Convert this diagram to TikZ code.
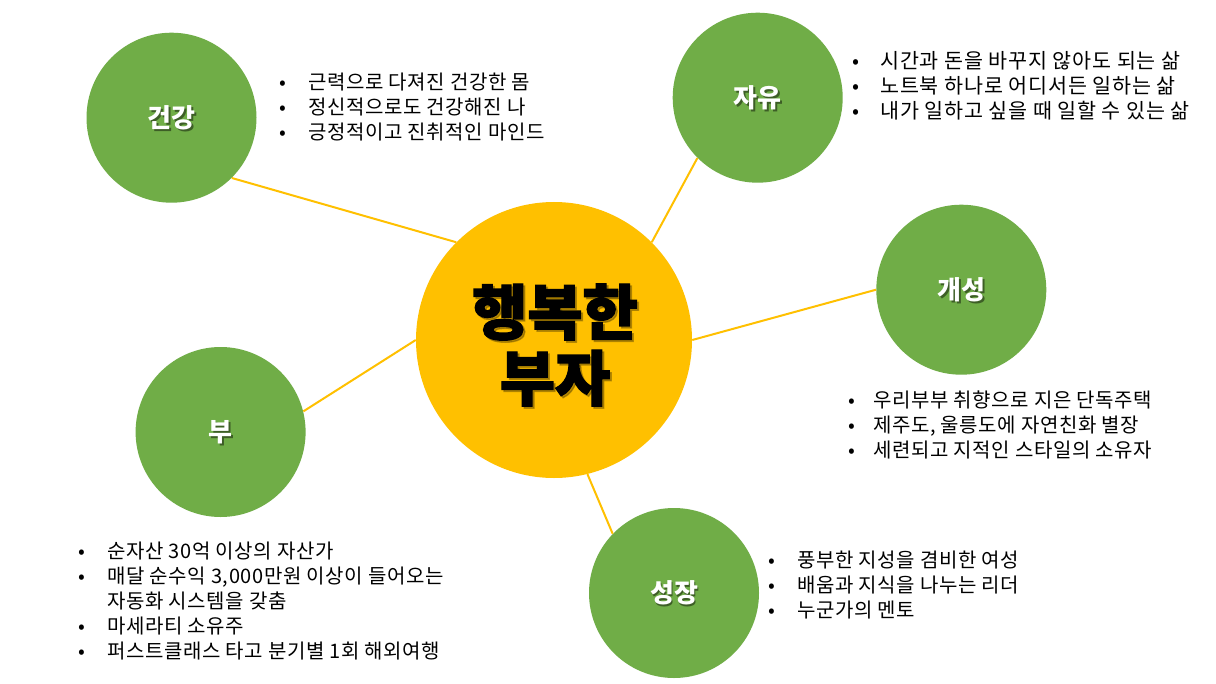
\documentclass[tikz,border=0pt]{standalone}
\usepackage{fontspec}
\newfontfamily\kr{Noto Sans CJK KR}
\newfontfamily\krl{Noto Sans CJK KR}[LetterSpace=3]
\newfontfamily\krj{Noto Sans CJK KR}[LetterSpace=4]
\newfontfamily\krh{Noto Sans CJK KR}[BoldFeatures={FakeBold=2.2}]
\definecolor{hubyellow}{HTML}{FFC000}
\definecolor{topicgreen}{HTML}{70AD47}
\tikzset{
  hub/.style={circle, fill=hubyellow, minimum size=207pt, inner sep=0pt},
  topic/.style={circle, fill=topicgreen, minimum size=127.5pt, inner sep=0pt},
  link/.style={draw=hubyellow, line width=1.5pt},
  lbl/.style={text=white, inner sep=0pt, font=\kr\bfseries\fontsize{19.5}{22}\selectfont},
  lblshadow/.style={text=black, opacity=0.45, inner sep=0pt, xshift=1.3pt, yshift=-1.3pt, font=\kr\bfseries\fontsize{19.5}{22}\selectfont},
  hubtext/.style={align=center, inner sep=0pt, font=\krh\bfseries\fontsize{45}{49.5}\selectfont},
  blist/.style={anchor=base west, inner sep=0pt, font=\krl\fontsize{15}{18.75}\selectfont},
  blistj/.style={anchor=base west, inner sep=0pt, font=\krj\fontsize{15.5}{18.75}\selectfont}
}
\begin{document}
\begin{tikzpicture}[x=0.75pt,y=-0.75pt]
\useasboundingbox[fill=white] (0,0) rectangle (1216,684);
% hub
\node[hub] (c) at (554,340) {};
% topics
\node[topic] (g) at (171.5,117.7) {};
\node[topic] (j) at (757.7,97.7) {};
\node[topic] (k) at (961.3,289.7) {};
\node[topic] (b) at (220.6,432) {};
\node[topic] (s) at (674,593) {};
% connectors
\draw[link] (g.-45) -- (c.135);
\draw[link] (j.225) -- (c.45);
\draw[link] (k.180) -- (c.0);
\draw[link] (b.14) -- (c.180);
\draw[link] (s.136) -- (c.-76);
% hub text
\node[hubtext, text=black!55!hubyellow, opacity=0.5, xshift=1.5pt, yshift=-1.5pt] at (555,345) {행복한\\부자};
\node[hubtext] (ct) at (555,345) {행복한\\부자};
% topic labels
\node[lblshadow] at (g) {건강}; \node[lbl] (gl) at (g) {건강};
\node[lblshadow] at (j) {자유}; \node[lbl] (jl) at (j) {자유};
\node[lblshadow] at (k) {개성}; \node[lbl] (kl) at (k) {개성};
\node[lblshadow] at (b) {부};   \node[lbl] (bl) at (b) {부};
\node[lblshadow] at (s) {성장}; \node[lbl] (sl) at (s) {성장};
% bullet lists
\node[blist] (gt) at (279,90) {\begin{tabular}[t]{@{}p{21.75pt}@{}l@{}}
•&근력으로 다져진 건강한 몸\\
•&정신적으로도 건강해진 나\\
•&긍정적이고 진취적인 마인드\end{tabular}};
\node[blistj] (jt) at (852,69) {\begin{tabular}[t]{@{}p{21pt}@{}l@{}}
•&시간과 돈을 바꾸지 않아도 되는 삶\\
•&노트북 하나로 어디서든 일하는 삶\\
•&내가 일하고 싶을 때 일할 수 있는 삶\end{tabular}};
\node[blist] (kt) at (848,407) {\begin{tabular}[t]{@{}p{18.75pt}@{}l@{}}
•&우리부부 취향으로 지은 단독주택\\
•&제주도, 울릉도에 자연친화 별장\\
•&세련되고 지적인 스타일의 소유자\end{tabular}};
\node[blist] (bt) at (78,558) {\begin{tabular}[t]{@{}p{21.75pt}@{}l@{}}
•&순자산 30억 이상의 자산가\\
•&매달 순수익 3,000만원 이상이 들어오는\\
&자동화 시스템을 갖춤\\
•&마세라티 소유주\\
•&퍼스트클래스 타고 분기별 1회 해외여행\end{tabular}};
\node[blist] (st) at (768,567) {\begin{tabular}[t]{@{}p{21.75pt}@{}l@{}}
•&풍부한 지성을 겸비한 여성\\
•&배움과 지식을 나누는 리더\\
•&누군가의 멘토\end{tabular}};
\end{tikzpicture}
\end{document}
